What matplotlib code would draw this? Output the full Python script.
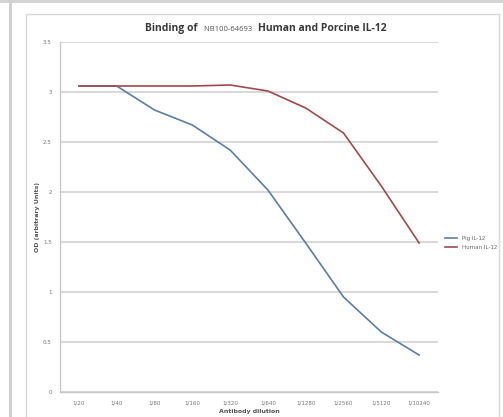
import matplotlib
matplotlib.use("Agg")
import matplotlib.pyplot as plt
from matplotlib.patches import Rectangle
import numpy as np

categories = ["1/20", "1/40", "1/80", "1/160", "1/320", "1/640", "1/1280", "1/2560", "1/5120", "1/10240"]
pig_il12 = [3.06, 3.06, 2.82, 2.67, 2.42, 2.02, 1.49, 0.95, 0.60, 0.37]
human_il12 = [3.06, 3.06, 3.06, 3.06, 3.07, 3.01, 2.84, 2.59, 2.06, 1.49]
series_names = ["Pig IL-12", "Human IL-12"]
yticks = [0, 0.5, 1, 1.5, 2, 2.5, 3, 3.5]
ytick_labels = ["0", "0.5", "1", "1.5", "2", "2.5", "3", "3.5"]

W, H = 503, 417
fig = plt.figure(figsize=(W / 100, H / 100), dpi=100)
fig.patch.set_facecolor("white")

# page decorations
fig.patches.append(Rectangle((0, 1 - 3 / H), 1, 3 / H, transform=fig.transFigure,
                             facecolor="#d4d4d4", edgecolor="none"))
fig.patches.append(Rectangle((9 / W, 0), 3 / W, 1, transform=fig.transFigure,
                             facecolor="#cfcfcf", edgecolor="none"))
fig.patches.append(Rectangle((26 / W, -0.05), (499 - 26) / W, 1 - 14 / H + 0.05,
                             transform=fig.transFigure, facecolor="none",
                             edgecolor="#d8d8d8", linewidth=1.0))

ax = fig.add_axes([60 / W, 1 - 392 / H, (438 - 60) / W, (392 - 42) / H])
x = np.arange(len(categories))
ax.plot(x, pig_il12, color="#5d7ca6", linewidth=1.2, label=series_names[0])
ax.plot(x, human_il12, color="#a04a4c", linewidth=1.2, label=series_names[1])

ax.set_xlim(-0.5, len(categories) - 0.5)
ax.set_ylim(0, 3.5)
ax.set_yticks(yticks)
ax.set_yticklabels(ytick_labels)
ax.set_xticks(x)
ax.set_xticklabels(categories)
ax.tick_params(axis="both", labelsize=4, colors="#777777", length=0, pad=6)
ax.grid(axis="y", color="#d2d2d2", linewidth=1.2)
ax.set_axisbelow(True)
for s in ["top", "right"]:
    ax.spines[s].set_visible(False)
for s in ["left", "bottom"]:
    ax.spines[s].set_color("#c8c8c8")
    ax.spines[s].set_linewidth(1.0)

ax.set_xlabel("Antibody dilution", fontsize=4.5, fontweight="bold", color="#555555", labelpad=3)
ax.set_ylabel("OD (arbitrary Units)", fontsize=4.5, fontweight="bold", color="#555555", labelpad=2)

# title in three parts, sharing one baseline
ty = 1 - 31 / H
parts = [("Binding of", 7.5, "bold", "#3a3a3a"),
         ("   NB100-64693   ", 5.5, "normal", "#555555"),
         ("Human and Porcine IL-12", 7.5, "bold", "#3a3a3a")]
fig.canvas.draw()
renderer = fig.canvas.get_renderer()
xpos = 145 / W
for txt, fs, fw, col in parts:
    t = fig.text(xpos, ty, txt, fontsize=fs, fontweight=fw, color=col,
                 ha="left", va="baseline", family="Open Sans")
    bb = t.get_window_extent(renderer=renderer)
    xpos += bb.width / (W)

fig.legend(loc="center left", bbox_to_anchor=(440 / W, 1 - 243 / H), frameon=False,
           fontsize=4, handlelength=2.2, labelspacing=0.6, labelcolor="#666666")

fig.savefig("out.png", dpi=100)
